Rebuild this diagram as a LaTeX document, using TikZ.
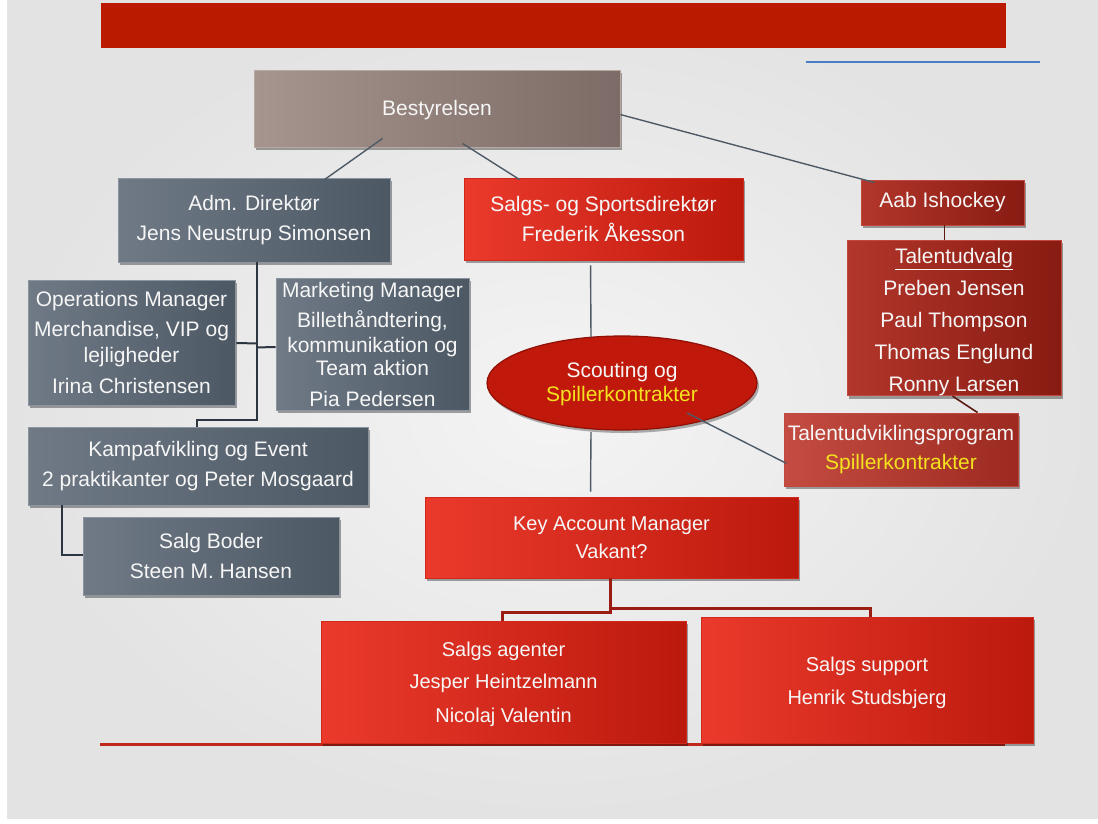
\documentclass[tikz,border=0pt]{standalone}
\usepackage{fontspec}
\setmainfont{Liberation Sans}
\usetikzlibrary{shapes.geometric,shadows,calc}
\definecolor{bgout}{HTML}{E3E3E3}
\definecolor{bgin}{HTML}{F4F4F4}
\definecolor{banner}{HTML}{BA1A00}
\definecolor{blueline}{HTML}{4A7CC4}
\definecolor{txt}{HTML}{F6F6F6}
\definecolor{yel}{HTML}{F4E21E}
\definecolor{slateL}{HTML}{6F7A86}
\definecolor{slateR}{HTML}{4C5864}
\definecolor{slateE}{HTML}{8C959F}
\definecolor{redL}{HTML}{EA3A2C}
\definecolor{redR}{HTML}{BC190D}
\definecolor{redE}{HTML}{D0281C}
\definecolor{dredL}{HTML}{B2362B}
\definecolor{dredR}{HTML}{881B12}
\definecolor{dredE}{HTML}{C0483C}
\definecolor{mredL}{HTML}{C44C42}
\definecolor{mredR}{HTML}{9C2A20}
\definecolor{brownL}{HTML}{A6948E}
\definecolor{brownR}{HTML}{7C6B66}
\definecolor{brownE}{HTML}{B8A8A2}
\definecolor{ellfill}{HTML}{C0190B}
\definecolor{ellE}{HTML}{8E1006}
\definecolor{connc}{HTML}{4E5A66}
\definecolor{treec}{HTML}{2C3640}
\definecolor{kamc}{HTML}{9A1C12}
\definecolor{talc}{HTML}{5A1A12}
\definecolor{bottomred}{HTML}{C0281C}
\begin{document}
\begin{tikzpicture}[x=1pt,y=-1pt,
  box/.style={rectangle, inner sep=0pt, align=center, text=txt,
    font=\fontsize{21}{30}\selectfont, line width=0.9pt,
    drop shadow={shadow xshift=2pt, shadow yshift=-3pt, opacity=0.35, fill=black}},
  slatebox/.style={box, left color=slateL, right color=slateR, draw=slateE},
  redbox/.style={box, left color=redL, right color=redR, draw=redE},
  dredbox/.style={box, left color=dredL, right color=dredR, draw=dredE},
  mredbox/.style={box, left color=mredL, right color=mredR, draw=dredE},
  brownbox/.style={box, left color=brownL, right color=brownR, draw=brownE},
  conn/.style={draw=connc, line width=1.4pt},
  treeconn/.style={draw=treec, line width=2pt},
  kamconn/.style={draw=kamc, line width=2.2pt},
  talconn/.style={draw=talc, line width=1.6pt}]
\useasboundingbox (0,0) rectangle (1098,823);
\fill[white] (0,0) rectangle (1098,823);
\shade[inner color=bgin, outer color=bgout] (7,0) rectangle (1098,818);
% decorations
\fill[banner] (101,3) rectangle (1006,48);
\draw[blueline, line width=1.6pt] (806,62) -- (1040,62);
\draw[bottomred, line width=3pt] (100,744) -- (1005,744);

% nodes
\node[brownbox, minimum width=366pt, minimum height=77pt] (best) at (437,108.5) {\rule{0pt}{19pt}Bestyrelsen};
\node[slatebox, minimum width=272pt, minimum height=84pt] (adm) at (254,220) {Adm. Direktør\\Jens Neustrup Simonsen};
\node[redbox, minimum width=279pt, minimum height=82pt] (sal) at (603.5,219) {Salgs- og Sportsdirektør\\Frederik Åkesson};
\node[dredbox, minimum width=163pt, minimum height=45pt] (aab) at (942.5,202.5) {Aab Ishockey};
\node[dredbox, minimum width=214pt, minimum height=150pt, font=\fontsize{21}{32}\selectfont] (tal) at (954,318)
  {\rule{0pt}{23pt}\underline{Talentudvalg}\\Preben Jensen\\Paul Thompson\\Thomas Englund\\Ronny Larsen};
\node[slatebox, minimum width=207pt, minimum height=125pt, font=\fontsize{21}{24}\selectfont] (ops) at (131.5,342.5)
  {Operations Manager\\[6pt]Merchandise, VIP og\\[2pt]lejligheder\\[7pt]Irina Christensen};
\node[slatebox, minimum width=193pt, minimum height=132pt, font=\fontsize{21}{23}\selectfont] (mkt) at (372.5,344)
  {Marketing Manager\\[7pt]Billethåndtering,\\[2pt]kommunikation og\\Team aktion\\[8pt]Pia Pedersen};
\node[slatebox, minimum width=340pt, minimum height=78pt] (kamp) at (198,466) {Kampafvikling og Event\\2 praktikanter og Peter Mosgaard};
\node[slatebox, minimum width=256pt, minimum height=78pt] (boder) at (211,556) {Salg Boder\\Steen M. Hansen};
\node[ellipse, inner sep=0pt, minimum width=270pt, minimum height=94pt, fill=ellfill, draw=ellE, line width=1.2pt,
  align=center, text=txt, font=\fontsize{21}{24}\selectfont,
  drop shadow={shadow xshift=2pt, shadow yshift=-3pt, opacity=0.3, fill=black}] (ell) at (622,383)
  {\rule{0pt}{18pt}Scouting og\\\textcolor{yel}{Spillerkontrakter}};
\node[mredbox, minimum width=234pt, minimum height=73pt, font=\fontsize{21}{29}\selectfont] (tud) at (901,449.5)
  {Talentudviklingsprogram\\\textcolor{yel}{Spillerkontrakter}};
\node[redbox, minimum width=373pt, minimum height=81pt, font=\fontsize{20}{28}\selectfont] (kam) at (611.5,537.5) {Key Account Manager\\Vakant?};
\node[redbox, minimum width=365pt, minimum height=122pt, font=\fontsize{20}{32}\selectfont] (agent) at (503.5,682)
  {\rule{0pt}{20pt}Salgs agenter\\Jesper Heintzelmann\\[2pt]Nicolaj Valentin};
\node[redbox, minimum width=332pt, minimum height=126pt, font=\fontsize{20}{33}\selectfont] (supp) at (867,680)
  {\rule{0pt}{20pt}Salgs support\\Henrik Studsbjerg};

% connectors
\draw[conn] ($(best.south west)+(129,-9)$) -- ($(adm.north west)+(207,2)$);
\draw[conn] ($(best.south west)+(209,-4)$) -- ($(sal.north west)+(56,2)$);
\draw[conn] ($(best.north east)+(0,45)$) -- ($(aab.north west)+(14,3)$);
\draw[talconn] ($(aab.south west)+(84,0)$) -- ($(tal.north west)+(98,0)$);
\draw[talconn] ($(tal.south west)+(106,0)$) -- ($(tud.north west)+(194,0)$);
\draw[conn] ($(ell.center)+(65,30)$) -- ($(tud.south west)+(3,-23)$);
\draw[conn] ($(sal.south west)+(127,5)$) -- ($(ell.center)+(-31,-46)$);
\draw[conn] ($(ell.center)+(-31,49)$) -- ($(kam.north west)+(166,-5)$);
\draw[treeconn] ($(adm.south west)+(139,0)$) |- ($(kamp.north west)+(169,-7)$) -- ($(kamp.north west)+(169,0)$);
\draw[treeconn] ($(ops.east)+(1,0.5)$) -- ($(adm.south west)+(139,81)$);
\draw[treeconn] ($(adm.south west)+(139,85)$) -- ($(mkt.west)+(0,3)$);
\draw[treeconn] ($(kamp.south west)+(34,0)$) |- ($(boder.west)+(0,-1)$);
\draw[kamconn] ($(kam.south west)+(186,0)$) |- ($(agent.north west)+(182,-8)$) -- ($(agent.north west)+(182,0)$);
\draw[kamconn] ($(kam.south west)+(186,30)$) -| ($(supp.north west)+(170,0)$);
\end{tikzpicture}
\end{document}
